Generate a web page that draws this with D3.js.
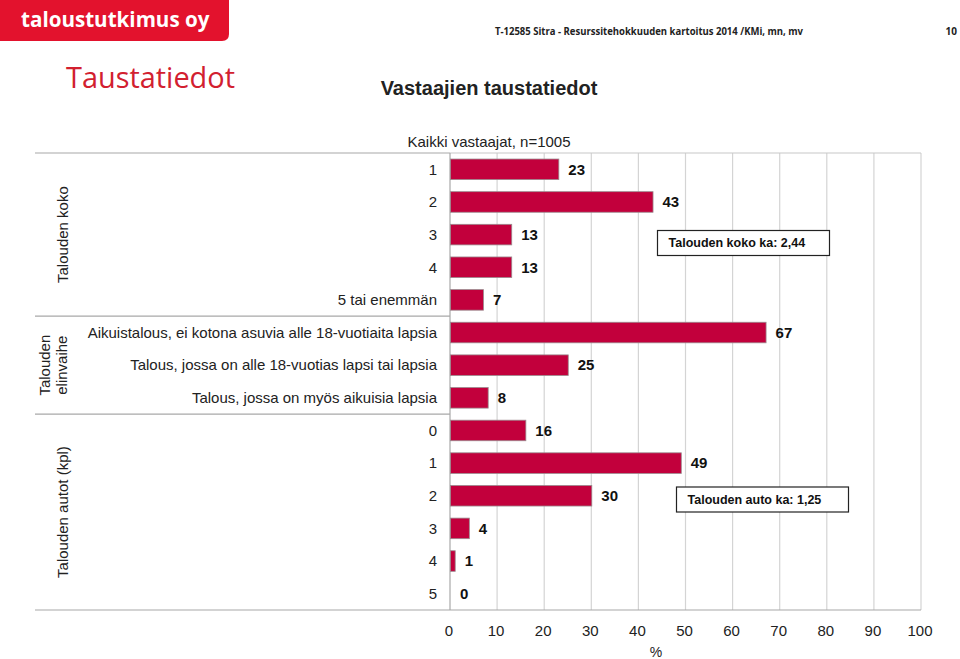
<!DOCTYPE html>
<html><head><meta charset="utf-8">
<script src="https://cdn.jsdelivr.net/npm/d3@7/dist/d3.min.js"></script>
<style>body{margin:0;background:#fff;}svg{display:block;font-family:"Liberation Sans",Arial,sans-serif;}</style>
</head><body><svg id="c" width="960" height="659"></svg>
<script>
const groups = ["Talouden koko", "Talouden elinvaihe", "Talouden autot (kpl)"];
const categories = [
  "1","2","3","4","5 tai enemmän",
  "Aikuistalous, ei kotona asuvia alle 18-vuotiaita lapsia",
  "Talous, jossa on alle 18-vuotias lapsi tai lapsia",
  "Talous, jossa on myös aikuisia lapsia",
  "0","1","2","3","4","5"
];
const categoryGroup = [0,0,0,0,0,1,1,1,2,2,2,2,2,2];
const values = [23,43,13,13,7, 67,25,8, 16,49,30,4,1,0];
const xTicks = [0,10,20,30,40,50,60,70,80,90,100];
const notes = [
  {text:"Talouden koko ka: 2,44", row:3},
  {text:"Talouden auto ka: 1,25", row:11}
];

const svg = d3.select("#c");
const pLeft = 450, pRight = 921, pTop = 153, pBottom = 610;
const x = d3.scaleLinear().domain([0,100]).range([pLeft,pRight]);
const y = d3.scaleBand().domain(d3.range(categories.length)).range([pTop,pBottom]).paddingInner(0.37).paddingOuter(0.185);

// header
svg.append("path").attr("d","M0,0H229V34Q229,41 222,41H0Z").attr("fill","#e3122d");
svg.append("text").attr("x",21).attr("y",27).attr("fill","#fff").attr("font-family","'Open Sans',sans-serif").attr("font-weight","bold").attr("font-size",20.6).text("taloustutkimus oy");
svg.append("text").attr("x",495).attr("y",35).attr("font-family","'Open Sans',sans-serif").attr("font-weight","bold").attr("font-size",10.5).attr("textLength",308).attr("lengthAdjust","spacingAndGlyphs").attr("fill","#222").text("T-12585 Sitra - Resurssitehokkuuden kartoitus 2014 /KMi, mn, mv");
svg.append("text").attr("x",957).attr("y",35).attr("text-anchor","end").attr("font-family","'Open Sans',sans-serif").attr("font-weight","bold").attr("font-size",10).attr("fill","#222").text("10");
svg.append("text").attr("x",66).attr("y",88).attr("fill","#d2202f").attr("font-family","'Open Sans',sans-serif").attr("font-size",28.9).text("Taustatiedot");
svg.append("text").attr("x",489).attr("y",95).attr("text-anchor","middle").attr("font-weight","bold").attr("font-size",20).attr("fill","#222").text("Vastaajien taustatiedot");
svg.append("text").attr("x",489).attr("y",147).attr("text-anchor","middle").attr("font-size",15).attr("fill","#222").text("Kaikki vastaajat, n=1005");

// grid
svg.append("g").selectAll("line").data(xTicks.slice(1)).join("line")
  .attr("x1",d=>x(d)).attr("x2",d=>x(d)).attr("y1",pTop).attr("y2",pBottom)
  .attr("stroke","#d4d4d4").attr("stroke-width",1.2);
svg.append("line").attr("x1",pLeft).attr("x2",pRight).attr("y1",pTop).attr("y2",pTop).attr("stroke","#c8c8c8").attr("stroke-width",1.2);

// group separators
const sepRows = [0,5,8];
svg.append("g").selectAll("line").data(sepRows).join("line")
  .attr("x1",35).attr("x2",pLeft).attr("y1",d=>y(d)-y.step()*y.paddingOuter()).attr("y2",d=>y(d)-y.step()*y.paddingOuter())
  .attr("stroke","#a8a8a8").attr("stroke-width",1.2);
svg.append("line").attr("x1",35).attr("x2",pRight).attr("y1",pBottom).attr("y2",pBottom).attr("stroke","#a8a8a8").attr("stroke-width",1.2);
svg.append("line").attr("x1",pLeft).attr("x2",pLeft).attr("y1",pTop).attr("y2",pBottom).attr("stroke","#a8a8a8").attr("stroke-width",1.2);

// group labels
const groupCenter = g => {
  const rows = d3.range(categories.length).filter(i=>categoryGroup[i]===g);
  return (y(rows[0]) + y(rows[rows.length-1]) + y.bandwidth())/2;
};
[[0,["Talouden koko"]],[1,["Talouden","elinvaihe"]],[2,["Talouden autot (kpl)"]]].forEach(([g,lines])=>{
  const cy = groupCenter(g);
  const t = svg.append("text").attr("transform",`translate(${lines.length>1?50:68},${cy}) rotate(-90)`)
    .attr("text-anchor","middle").attr("font-size",15).attr("fill","#222");
  lines.forEach((l,i)=>t.append("tspan").attr("x",0).attr("dy",i===0?0:17).text(l));
});

// category labels
svg.append("g").selectAll("text").data(categories).join("text")
  .attr("x",437).attr("y",(d,i)=>y(i)+y.bandwidth()/2).attr("dy","0.35em")
  .attr("text-anchor","end").attr("font-size",15).attr("fill","#222").text(d=>d);

// bars
svg.append("g").selectAll("rect").data(values).join("rect")
  .attr("x",x(0)+0.5).attr("y",(d,i)=>y(i)).attr("width",d=>Math.max(0,x(d)-x(0))).attr("height",y.bandwidth())
  .attr("fill",d=>d>0?"#c2003c":"none").attr("stroke",d=>d>0?"#9a8a8e":"none").attr("stroke-width",0.8);

// value labels
svg.append("g").selectAll("text").data(values).join("text")
  .attr("x",d=>x(d)+10).attr("y",(d,i)=>y(i)+y.bandwidth()/2).attr("dy","0.35em")
  .attr("font-size",15).attr("font-weight","bold").attr("fill","#111").text(d=>d);

// notes
notes.forEach((n,k)=>{
  const bx = k===0?657.5:676.5, bw = 172, by = k===0?230.5:487;
  svg.append("rect").attr("x",bx).attr("y",by).attr("width",bw).attr("height",25).attr("fill","#fff").attr("stroke","#222").attr("stroke-width",1.2);
  svg.append("text").attr("x",bx+11).attr("y",by+12.5).attr("dy","0.35em").attr("font-size",12.5).attr("font-weight","bold").attr("fill","#111").text(n.text);
});

// x axis
svg.append("g").selectAll("text").data(xTicks).join("text")
  .attr("x",d=>x(d)-1).attr("y",636).attr("text-anchor","middle").attr("font-size",15).attr("fill","#222").text(d=>d);
svg.append("text").attr("x",656).attr("y",657).attr("text-anchor","middle").attr("font-size",14).attr("fill","#222").text("%");
</script></body></html>
